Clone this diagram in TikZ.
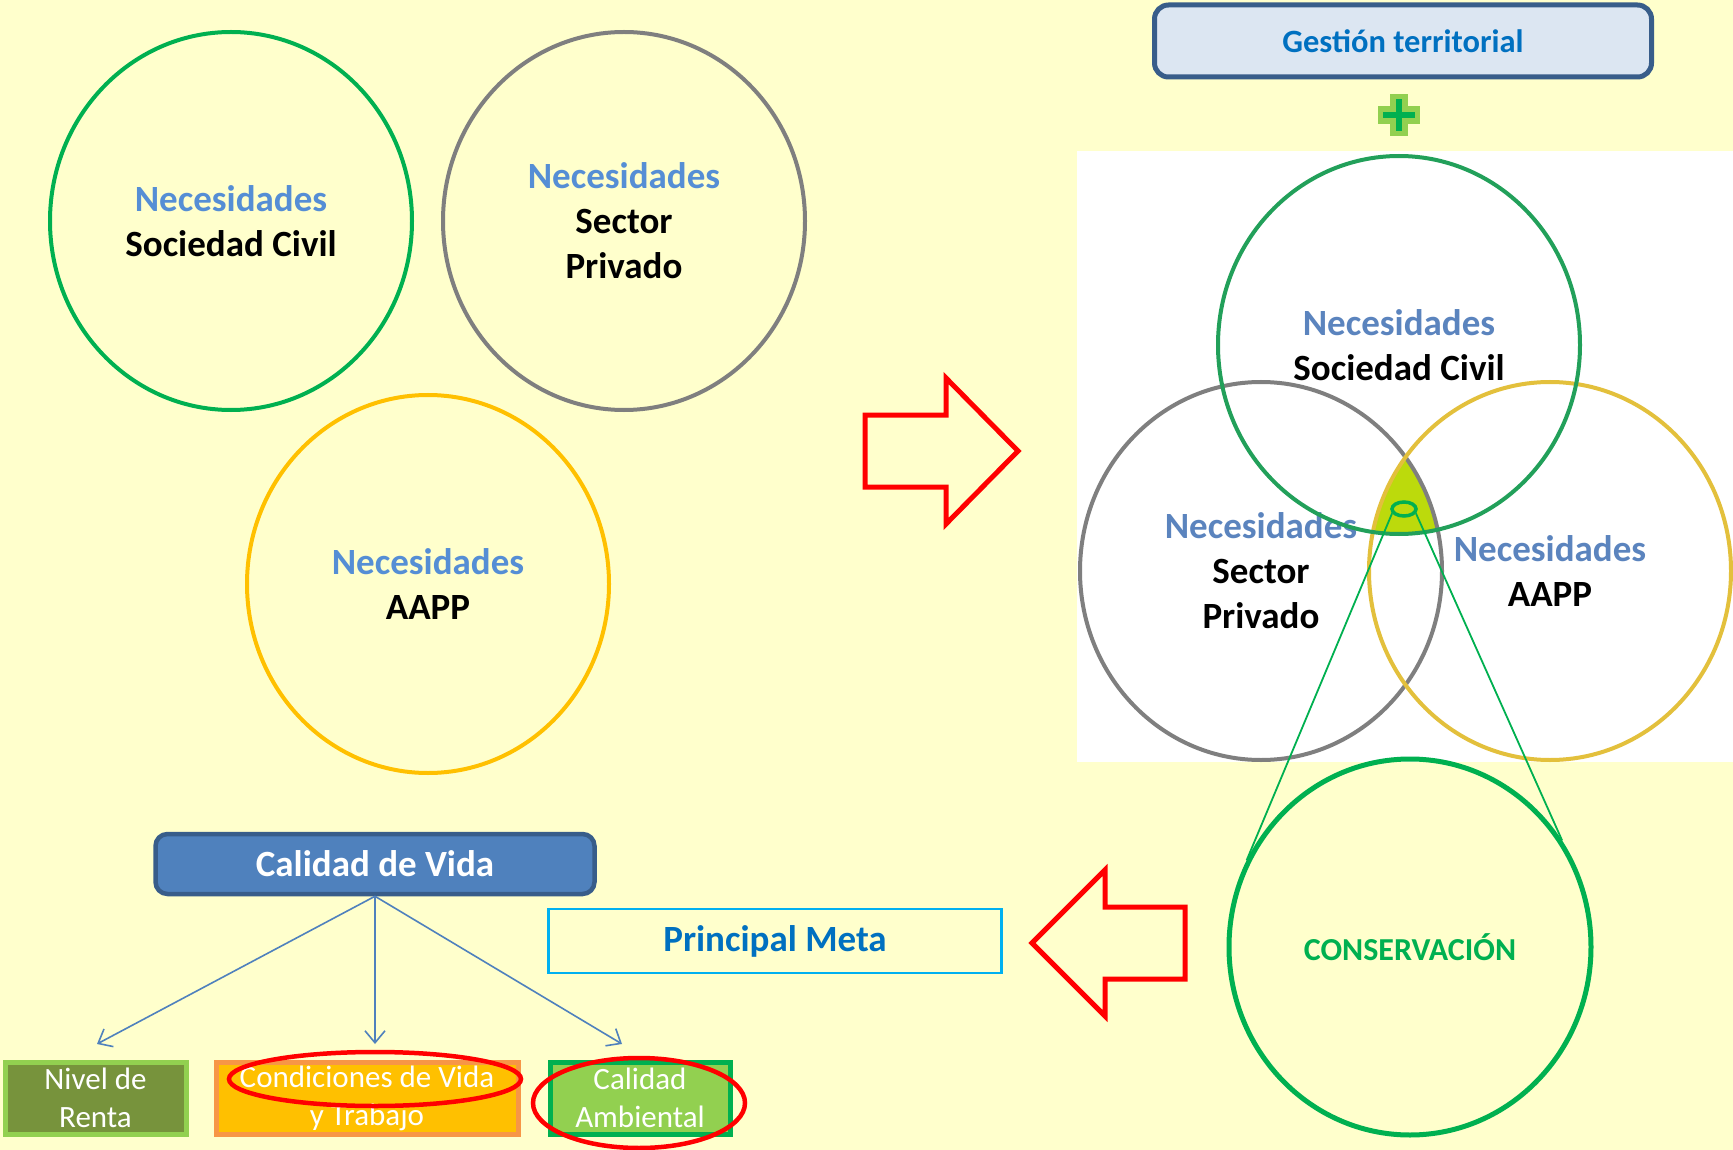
\documentclass[tikz,border=0pt]{standalone}
\usepackage{fontspec}
\setmainfont{Carlito}
\usetikzlibrary{shapes.geometric,arrows.meta}
\definecolor{bg}{HTML}{FFFFCC}
\definecolor{necblue}{HTML}{558ED5}
\definecolor{vnecblue}{HTML}{5B84BE}
\definecolor{cgreen}{HTML}{00B050}
\definecolor{vgreen}{HTML}{22A05A}
\definecolor{cgray}{HTML}{7F7F7F}
\definecolor{cyellow}{HTML}{FFC000}
\definecolor{vyellow}{HTML}{E3C03C}
\definecolor{inter}{HTML}{BCDA0C}
\definecolor{dblue}{HTML}{0070C0}
\definecolor{boxblue}{HTML}{4F81BD}
\definecolor{boxblueb}{HTML}{385D8A}
\definecolor{lightblue}{HTML}{DCE6F2}
\definecolor{cyan}{HTML}{00B0F0}
\definecolor{olive}{HTML}{77933C}
\definecolor{lgreen}{HTML}{92D050}
\definecolor{orangeb}{HTML}{F79646}
\definecolor{pureRed}{HTML}{FF0000}
\tikzset{
  bigcirc/.style={ellipse, line width=4, minimum width=362, minimum height=378, inner sep=0, align=center,
     font={\fontsize{37}{45}\selectfont\bfseries}},
  blockarrow/.style={draw=pureRed, line width=5, miter limit=10},
  branch/.style={draw=boxblue, line width=1.6, -{Straight Barb[length=12pt,width=20pt,line width=1.6]}},
  smallbox/.style={line width=5, minimum height=72, inner sep=0, align=center, text=white,
     font={\fontsize{31}{38}\selectfont}},
  redring/.style={ellipse, draw=pureRed, line width=4.5, inner sep=0},
}
\begin{document}
\begin{tikzpicture}[x=1pt,y=-1pt]
\fill[bg] (0,0) rectangle (1733,1150);
\useasboundingbox (0,0) rectangle (1733,1150);

% left circles
\node[bigcirc, draw=cgreen] (sc) at (231,221) {{\color{necblue}Necesidades}\\Sociedad Civil};
\node[bigcirc, draw=cgray] (sp) at (624,221) {{\color{necblue}Necesidades}\\Sector\\Privado};
\node[bigcirc, draw=cyellow] (aa) at (428,584) {{\color{necblue}Necesidades}\\AAPP};

% block arrow right
\draw[blockarrow] (865,415) -- (946,415) -- (946,378) -- (1018,451) -- (946,524) -- (946,487) -- (865,487) -- cycle;

% Gestion territorial
\node[draw=boxblueb, fill=lightblue, line width=5, rounded corners=14, minimum width=497, minimum height=72,
      text=dblue, font={\fontsize{32.5}{38}\selectfont\bfseries}] (gt) at (1403,41) {Gestión territorial};

% plus sign
\fill[lgreen] (1390,94) rectangle (1408,136);
\fill[lgreen] (1378,106) rectangle (1420,124);
\fill[cgreen] (1396,99) rectangle (1402,131);
\fill[cgreen] (1383,112) rectangle (1415,118);

% venn
\fill[white] (1077,151) rectangle (1733,762);
\begin{scope}
  \clip (1399,345) ellipse [x radius=181, y radius=190];
  \clip (1261,571) ellipse [x radius=181, y radius=190];
  \fill[inter] (1550,571) ellipse [x radius=181, y radius=190];
\end{scope}
\node[bigcirc, draw=cgray] (vsp) at (1261,571) {{\color{vnecblue}Necesidades}\\Sector\\Privado};
\node[bigcirc, draw=vyellow] (vaa) at (1550,571) {{\color{vnecblue}Necesidades}\\AAPP};
\node[bigcirc, draw=vgreen] (vsc) at (1399,345) {{\color{vnecblue}Necesidades}\\Sociedad Civil};

\node[ellipse, draw=cgreen, line width=3.5, minimum width=24, minimum height=14, inner sep=0] (sm) at (1404,509) {};

% conservacion
\node[ellipse, draw=cgreen, line width=5, minimum width=362, minimum height=376, inner sep=0,
      text=cgreen, font={\fontsize{32}{38}\selectfont\bfseries}] (cons) at (1410,947) {CONSERVACIÓN};
\draw[cgreen, line width=1.8] (sm.200) -- (cons.152);
\draw[cgreen, line width=1.8] (sm.-20) -- (cons.35);

% block arrow left
\draw[blockarrow] (1185,907) -- (1105,907) -- (1105,870) -- (1032,943) -- (1105,1016) -- (1105,979) -- (1185,979) -- cycle;

% Principal meta
\node[draw=cyan, line width=2.2, minimum width=453, minimum height=64, text=dblue,
      font={\fontsize{37}{44}\selectfont\bfseries}] (pm) at (775,941) {\raisebox{-7pt}{Principal Meta}};

% Calidad de vida
\node[draw=boxblueb, fill=boxblue, line width=4.5, rounded corners=12, minimum width=439, minimum height=60,
      text=white, font={\fontsize{37}{44}\selectfont\bfseries}] (cdv) at (375,864) {Calidad de Vida};

% bottom boxes
\node[smallbox, draw=lgreen, fill=olive, minimum width=181] (nr) at (95.5,1098) {Nivel de\\Renta};
\node[smallbox, draw=orangeb, fill=cyellow, minimum width=302] (cv) at (367,1098) {Condiciones de Vida\\y Trabajo};
\node[smallbox, draw=cgreen, fill=lgreen, minimum width=180] (ca) at (640,1098) {Calidad\\Ambiental};

\coordinate (t1) at (97,1044);
\coordinate (t2) at (375,1044);
\coordinate (t3) at (622,1044);
\draw[branch] (cdv.south) -- (t1);
\draw[branch] (cdv.south) -- (t2);
\draw[branch] (cdv.south) -- (t3);

% red rings
\node[redring, minimum width=292, minimum height=54] (r1) at (375,1079) {};
\node[redring, minimum width=212, minimum height=90] (r2) at (639,1103) {};
\end{tikzpicture}
\end{document}
